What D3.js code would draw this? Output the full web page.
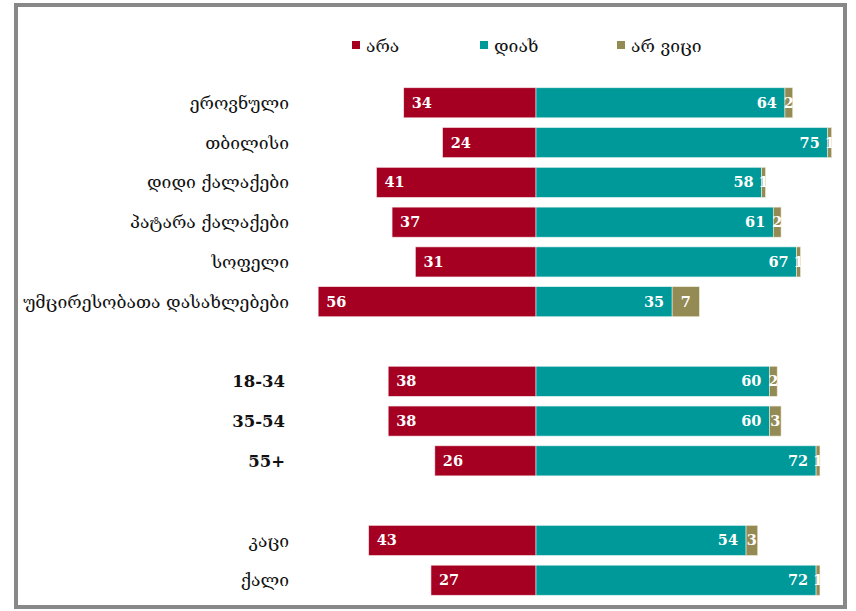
<!DOCTYPE html>
<html lang="ka">
	<head>
		<meta charset="utf-8">
		<title>Diverging bar chart</title>
		<script type="text/javascript" src="https://cdn.jsdelivr.net/npm/d3@7"></script>
		<style type="text/css">
			body { margin: 0; background: #fff; }
			text { font-family: "DejaVu Serif", serif; }
			.val {
				font-size: 14.5px;
				font-weight: bold;
				fill: white;
			}
		</style>
	</head>
	<body>
		<script type="text/javascript">

			// Data
			var categories = ["ეროვნული", "თბილისი", "დიდი ქალაქები", "პატარა ქალაქები", "სოფელი",
							"უმცირესობათა დასახლებები", "", "18-34", "35-54", "55+", "", "კაცი", "ქალი"];
			var ara   = [34, 24, 41, 37, 31, 56, null, 38, 38, 26, null, 43, 27];
			var diax  = [64, 75, 58, 61, 67, 35, null, 60, 60, 72, null, 54, 72];
			var arvici = [2, 1, 1, 2, 1, 7, null, 2, 3, 1, null, 3, 1];
			var legendLabels = ["არა", "დიახ", "არ ვიცი"];
			var colors = ["#A50021", "#009999", "#948A54"];

			var w = 856;
			var h = 611;

			var svg = d3.select("body")
						.append("svg")
						.attr("width", w)
						.attr("height", h);

			//Frame
			svg.append("rect")
				.attr("x", 16)
				.attr("y", 5)
				.attr("width", 829)
				.attr("height", 602)
				.attr("fill", "none")
				.attr("stroke", "#888")
				.attr("stroke-width", 4);

			var xScale = d3.scaleLinear()
							.domain([0, 100])
							.range([0, 389]);
			var x0 = 536;

			var yScale = d3.scaleBand()
							.domain(d3.range(categories.length))
							.range([83, 600])
							.paddingInner(0.245)
							.paddingOuter(0.12);

			var rows = d3.range(categories.length).filter(function(i) { return ara[i] !== null; });
			var isNum = function(i) { return /^\d/.test(categories[i]); };

			//Category labels
			svg.selectAll("text.cat")
			   .data(rows)
			   .enter()
			   .append("text")
			   .attr("class", "cat")
			   .attr("x", function(i) { return isNum(i) ? 285 : 289; })
			   .attr("y", function(i) { return yScale(i) + yScale.bandwidth() / 2; })
			   .attr("dy", "0.35em")
			   .attr("text-anchor", "end")
			   .attr("font-size", function(i) { return isNum(i) ? "16.5px" : "17.5px"; })
			   .attr("font-weight", function(i) { return isNum(i) ? "bold" : "normal"; })
			   .attr("fill", "#111")
			   .text(function(i) { return categories[i]; });

			//Bars: ara (left)
			svg.selectAll("rect.ara")
			   .data(rows)
			   .enter()
			   .append("rect")
			   .attr("x", function(i) { return x0 - xScale(ara[i]); })
			   .attr("y", function(i) { return yScale(i); })
			   .attr("width", function(i) { return xScale(ara[i]); })
			   .attr("height", yScale.bandwidth())
			   .attr("fill", colors[0])
			   .attr("stroke", "#f3dfe3")
			   .attr("stroke-width", 0.6);

			//Bars: diax (right)
			svg.selectAll("rect.diax")
			   .data(rows)
			   .enter()
			   .append("rect")
			   .attr("x", x0)
			   .attr("y", function(i) { return yScale(i); })
			   .attr("width", function(i) { return xScale(diax[i]); })
			   .attr("height", yScale.bandwidth())
			   .attr("fill", colors[1])
			   .attr("stroke", "#def0f0")
			   .attr("stroke-width", 0.6);

			//Bars: ar vici
			svg.selectAll("rect.arvici")
			   .data(rows)
			   .enter()
			   .append("rect")
			   .attr("x", function(i) { return x0 + xScale(diax[i]); })
			   .attr("y", function(i) { return yScale(i); })
			   .attr("width", function(i) { return xScale(arvici[i]); })
			   .attr("height", yScale.bandwidth())
			   .attr("fill", colors[2])
			   .attr("stroke", "#eeeadc")
			   .attr("stroke-width", 0.6);

			//Value labels
			svg.selectAll("text.vara")
			   .data(rows)
			   .enter()
			   .append("text")
			   .attr("class", "val")
			   .attr("x", function(i) { return x0 - xScale(ara[i]) + 8; })
			   .attr("y", function(i) { return yScale(i) + yScale.bandwidth() / 2; })
			   .attr("dy", "0.35em")
			   .text(function(i) { return ara[i]; });

			svg.selectAll("text.vdiax")
			   .data(rows)
			   .enter()
			   .append("text")
			   .attr("class", "val")
			   .attr("x", function(i) { return x0 + xScale(diax[i]) - 8; })
			   .attr("y", function(i) { return yScale(i) + yScale.bandwidth() / 2; })
			   .attr("dy", "0.35em")
			   .attr("text-anchor", "end")
			   .text(function(i) { return diax[i]; });

			svg.selectAll("text.vvici")
			   .data(rows)
			   .enter()
			   .append("text")
			   .attr("class", "val")
			   .attr("x", function(i) { return x0 + xScale(diax[i]) + xScale(arvici[i]) / 2; })
			   .attr("y", function(i) { return yScale(i) + yScale.bandwidth() / 2; })
			   .attr("dy", "0.35em")
			   .attr("text-anchor", "middle")
			   .text(function(i) { return arvici[i]; });

			//Legend
			var legendX = [352, 480, 617];
			var legend = svg.selectAll("g.legend")
							.data(legendLabels)
							.enter()
							.append("g")
							.attr("transform", function(d, i) { return "translate(" + legendX[i] + ",41)"; });

			legend.append("rect")
				.attr("width", 8)
				.attr("height", 8)
				.attr("fill", function(d, i) { return colors[i]; });

			legend.append("text")
				.attr("x", 14)
				.attr("y", 5)
				.attr("dy", "0.35em")
				.attr("font-size", "17.5px")
				.attr("fill", "#111")
				.text(function(d) { return d; });

		</script>
	</body>
</html>
